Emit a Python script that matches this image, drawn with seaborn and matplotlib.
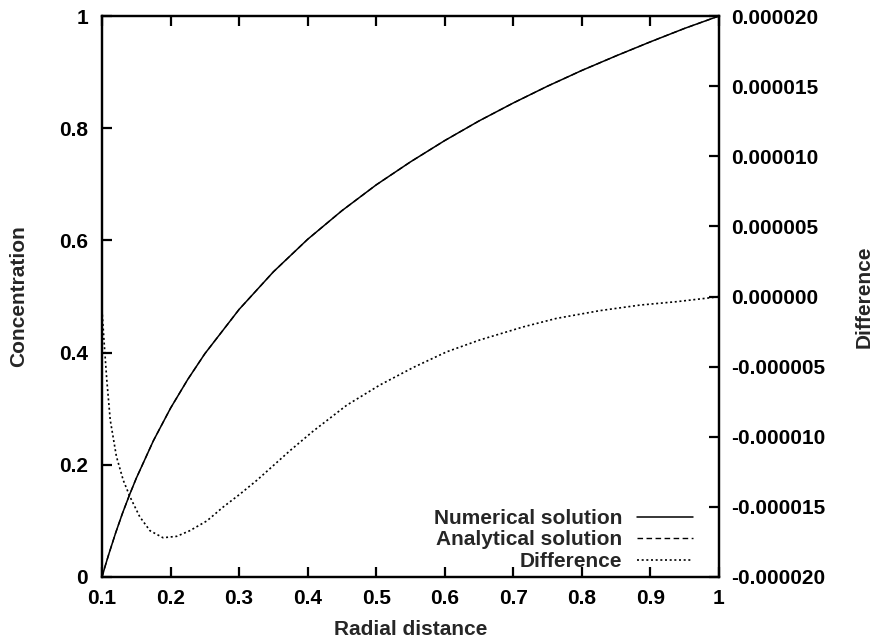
import matplotlib
matplotlib.use("Agg")
import matplotlib.pyplot as plt
import seaborn as sns
import pandas as pd

# ---- data ----
radius_conc = [0.1, 0.105, 0.11, 0.12, 0.13, 0.14, 0.15, 0.175, 0.2, 0.225, 0.25, 0.3,
               0.35, 0.4, 0.45, 0.5, 0.55, 0.6, 0.65, 0.7, 0.75, 0.8, 0.85, 0.9, 0.95, 1.0]
numerical = [0.0, 0.021, 0.041, 0.079, 0.114, 0.146, 0.176, 0.243, 0.301, 0.352, 0.398, 0.477,
             0.544, 0.602, 0.653, 0.699, 0.740, 0.778, 0.813, 0.845, 0.875, 0.903, 0.929,
             0.954, 0.978, 1.0]
analytical = [0.0, 0.021, 0.041, 0.079, 0.114, 0.146, 0.176, 0.243, 0.301, 0.352, 0.398, 0.477,
              0.544, 0.602, 0.653, 0.699, 0.740, 0.778, 0.813, 0.845, 0.875, 0.903, 0.929,
              0.954, 0.978, 1.0]

radius_diff = [0.1, 0.103, 0.107, 0.112, 0.121, 0.131, 0.141, 0.155, 0.170, 0.189, 0.209,
               0.228, 0.253, 0.277, 0.301, 0.326, 0.350, 0.374, 0.408, 0.457, 0.505, 0.554,
               0.603, 0.651, 0.715, 0.763, 0.826, 0.885, 0.938, 0.989, 1.0]
difference = [-0.96e-6, -3.2e-6, -5.96e-6, -8.8e-6, -11.4e-6, -13.1e-6, -14.3e-6, -15.7e-6,
              -16.7e-6, -17.2e-6, -17.1e-6, -16.7e-6, -16.0e-6, -15.0e-6, -14.1e-6, -13.1e-6,
              -12.05e-6, -11.0e-6, -9.6e-6, -7.75e-6, -6.32e-6, -5.06e-6, -3.94e-6, -3.1e-6,
              -2.16e-6, -1.56e-6, -1.01e-6, -0.61e-6, -0.37e-6, -0.08e-6, 0.0]

x_ticks = [0.1, 0.2, 0.3, 0.4, 0.5, 0.6, 0.7, 0.8, 0.9, 1.0]
x_ticklabels = ["0.1", "0.2", "0.3", "0.4", "0.5", "0.6", "0.7", "0.8", "0.9", "1"]
y_ticks = [0.0, 0.2, 0.4, 0.6, 0.8, 1.0]
y_ticklabels = ["0", "0.2", "0.4", "0.6", "0.8", "1"]
y2_ticks = [-20e-6, -15e-6, -10e-6, -5e-6, 0.0, 5e-6, 10e-6, 15e-6, 20e-6]
y2_ticklabels = ["-0.000020", "-0.000015", "-0.000010", "-0.000005", "0.000000",
                 "0.000005", "0.000010", "0.000015", "0.000020"]

# ---- style ----
sns.set_theme(style="ticks")
plt.rcParams["font.family"] = ["Liberation Sans", "DejaVu Sans"]
plt.rcParams["font.weight"] = "bold"
plt.rcParams["axes.labelweight"] = "bold"
FS = 15

df_conc = pd.DataFrame({"r": radius_conc, "num": numerical, "ana": analytical})
df_diff = pd.DataFrame({"r": radius_diff, "diff": difference})

fig = plt.figure(figsize=(8.76, 6.43), dpi=100)
ax = fig.add_axes([102 / 876, 1 - 577 / 643, 617 / 876, 561 / 643])
ax2 = ax.twinx()

sns.lineplot(data=df_conc, x="r", y="ana", ax=ax, color="black", lw=1.0,
             linestyle=(0, (4, 2.5)), label="Analytical solution", legend=False)
sns.lineplot(data=df_conc, x="r", y="num", ax=ax, color="black", lw=1.1,
             label="Numerical solution", legend=False)
sns.lineplot(data=df_diff, x="r", y="diff", ax=ax2, color="black", lw=1.2,
             linestyle=(0, (1.2, 1.6)), label="Difference", legend=False)

ax.set_xlim(0.1, 1.0)
ax.set_ylim(0.0, 1.0)
ax2.set_ylim(-20e-6, 20e-6)

ax.set_xticks(x_ticks)
ax.set_xticklabels(x_ticklabels)
ax.set_yticks(y_ticks)
ax.set_yticklabels(y_ticklabels)
ax2.set_yticks(y2_ticks)
ax2.set_yticklabels(y2_ticklabels)

for a in (ax, ax2):
    for s in a.spines.values():
        s.set_linewidth(1.6)
        s.set_color("black")
        s.set_visible(True)

ax.tick_params(axis="x", which="both", direction="in", length=7, width=1.6,
               top=True, bottom=True, labelsize=FS, pad=9, colors="black")
ax.tick_params(axis="y", which="both", direction="in", length=7, width=1.6,
               left=True, right=False, labelsize=FS, pad=10, colors="black")
ax2.tick_params(axis="y", which="both", direction="in", length=7, width=1.6,
                left=False, right=True, labelsize=FS, pad=9, colors="black")
for lab in ax.get_xticklabels() + ax.get_yticklabels() + ax2.get_yticklabels():
    lab.set_fontweight("bold")

ax.set_xlabel("Radial distance", fontsize=FS, fontweight="bold", labelpad=8)
ax.set_ylabel("Concentration", fontsize=FS, fontweight="bold", labelpad=22)
ax2.set_ylabel("Difference", fontsize=FS, fontweight="bold", labelpad=21)

h1, l1 = ax.get_legend_handles_labels()
h2, l2 = ax2.get_legend_handles_labels()
handles = [h1[1], h1[0], h2[0]]
labels = [l1[1], l1[0], l2[0]]
leg = ax2.legend(handles, labels, loc="lower right", bbox_to_anchor=(0.971, -0.004),
                 frameon=False, markerfirst=False, handlelength=2.7,
                 handletextpad=0.7, labelspacing=0.12, borderaxespad=0.0,
                 prop={"weight": "bold", "size": FS})

fig.savefig("out.png", dpi=100)
